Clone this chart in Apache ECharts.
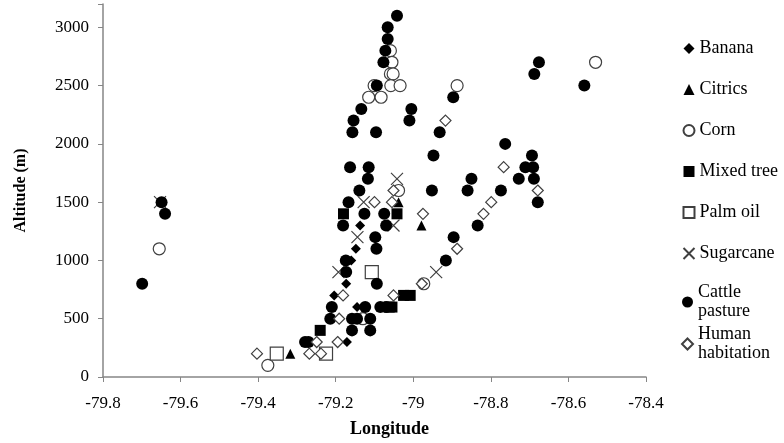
<!DOCTYPE html>
<html>
<head>
<meta charset="utf-8">
<script src="https://cdn.jsdelivr.net/npm/echarts@6/dist/echarts.min.js"></script>
<style>
  html, body { margin: 0; padding: 0; background: #fff; }
  #main { width: 784px; height: 443px; }
</style>
</head>
<body>
<div id="main"></div>
<script>
// [longitude, altitude]
var banana = [[-79.137, 1300], [-79.148, 1100], [-79.160, 1000], [-79.173, 800], [-79.204, 700], [-79.145, 600], [-79.171, 300]];
var citrics = [[-79.038, 1500], [-78.979, 1300], [-79.317, 200]];
var corn = [[-79.059, 2800], [-79.055, 2700], [-79.059, 2600], [-79.052, 2600], [-79.058, 2500], [-79.034, 2500], [-79.101, 2500],
    [-79.115, 2400], [-79.083, 2400], [-78.530, 2700], [-78.887, 2500], [-79.038, 1600], [-79.655, 1100], [-79.375, 100],
    [-78.973, 800], [-79.130, 500]];
var mixedTree = [[-79.042, 1400], [-79.180, 1400], [-79.240, 400], [-79.055, 600], [-79.062, 600], [-79.025, 700], [-79.008, 700]];
var palmOil = [[-79.352, 200], [-79.225, 200], [-79.107, 900]];
var sugarcane = [[-79.653, 1500], [-79.042, 1700], [-79.128, 1500], [-79.051, 1300], [-79.144, 1200], [-79.193, 900], [-78.941, 900]];
var cattle = [[-79.042, 3100], [-79.066, 3000], [-79.066, 2900], [-79.072, 2800], [-79.077, 2700], [-79.094, 2500],
    [-79.134, 2300], [-79.154, 2200], [-79.157, 2100], [-79.096, 2100], [-79.005, 2300], [-79.010, 2200], [-78.932, 2100],
    [-78.897, 2400], [-78.676, 2700], [-78.688, 2600], [-78.559, 2500], [-78.763, 2000], [-78.948, 1900], [-78.694, 1900],
    [-78.711, 1800], [-78.691, 1800], [-78.728, 1700], [-78.689, 1700], [-78.850, 1700], [-78.952, 1600], [-78.860, 1600],
    [-78.774, 1600], [-78.679, 1500], [-79.075, 1400], [-79.070, 1300], [-78.834, 1300], [-78.896, 1200], [-78.916, 1000],
    [-79.094, 800], [-79.095, 1100], [-79.085, 600], [-79.070, 600], [-79.163, 1800], [-79.115, 1800], [-79.117, 1700],
    [-79.139, 1600], [-79.167, 1500], [-79.126, 1400], [-79.181, 1300], [-79.098, 1200], [-79.174, 1000], [-79.173, 900],
    [-79.649, 1500], [-79.640, 1400], [-79.699, 800], [-79.210, 600], [-79.214, 500], [-79.279, 300], [-79.270, 300],
    [-79.158, 400], [-79.111, 400], [-79.158, 500], [-79.145, 500], [-79.111, 500], [-79.124, 600]];
var human = [[-78.917, 2200], [-78.767, 1800], [-78.679, 1600], [-79.051, 1600], [-79.055, 1500], [-79.100, 1500],
    [-78.975, 1400], [-78.799, 1500], [-78.819, 1400], [-78.887, 1100], [-78.978, 800], [-79.051, 700], [-79.181, 700],
    [-79.191, 500], [-79.249, 300], [-79.195, 300], [-79.403, 200], [-79.268, 200], [-79.238, 200]];

var chart = echarts.init(document.getElementById('main'));

var axisGrey = '#868686';
var openStyle = { color: '#fff', borderColor: '#404040', borderWidth: 1.2, opacity: 1 };
var solidStyle = { color: '#000', opacity: 1 };
var legendText = { fontFamily: 'Liberation Serif', fontSize: 18, color: '#000', lineHeight: 19 };

var option = {
    animation: false,
    backgroundColor: '#fff',
    grid: { left: 103, right: 138, top: 4, bottom: 66 },
    legend: [{
        data: ['Banana', 'Citrics', 'Corn', 'Mixed tree', 'Palm oil', 'Sugarcane'],
        orient: 'vertical',
        left: 676,
        top: 34,
        itemGap: 22,
        itemWidth: 11,
        itemHeight: 11,
        textStyle: legendText
    }, {
        data: ['Cattle pasture', 'Human habitation'],
        orient: 'vertical',
        left: 676,
        top: 278,
        itemGap: 4,
        itemWidth: 11,
        itemHeight: 11,
        formatter: function (name) { return name.replace(' ', '\n'); },
        textStyle: legendText
    }],
    xAxis: {
        type: 'value',
        min: -79.8,
        max: -78.4,
        interval: 0.2,
        name: 'Longitude',
        nameLocation: 'middle',
        nameGap: 43,
        nameTextStyle: { fontFamily: 'Liberation Serif', fontWeight: 'bold', fontSize: 18, color: '#000', padding: [0, 0, 0, 30] },
        splitLine: { show: false },
        axisLine: { lineStyle: { color: axisGrey, width: 1.5 } },
        axisTick: { show: true, inside: false, length: 5, lineStyle: { color: axisGrey } },
        axisLabel: {
            fontFamily: 'Liberation Serif', fontSize: 17, color: '#000', margin: 18,
            formatter: function (v) { return String(Number(v.toFixed(1))); }
        }
    },
    yAxis: {
        type: 'value',
        min: 0,
        max: 3200,
        interval: 500,
        name: 'Altitude (m)',
        nameLocation: 'middle',
        nameGap: 74,
        nameTextStyle: { fontFamily: 'Liberation Serif', fontWeight: 'bold', fontSize: 16, color: '#000' },
        splitLine: { show: false },
        axisLine: { show: true, lineStyle: { color: axisGrey, width: 1.5 } },
        axisTick: { show: true, inside: false, length: 5, lineStyle: { color: axisGrey } },
        axisLabel: {
            fontFamily: 'Liberation Serif', fontSize: 17, color: '#000', margin: 14,
            formatter: function (v) { return v % 500 === 0 ? String(v) : ''; }
        }
    },
    series: [
        { name: 'Banana', type: 'scatter', symbol: 'diamond', symbolSize: 10, itemStyle: solidStyle, data: banana },
        { name: 'Citrics', type: 'scatter', symbol: 'triangle', symbolSize: 10, itemStyle: solidStyle, data: citrics },
        { name: 'Corn', type: 'scatter', symbol: 'circle', symbolSize: 12, itemStyle: openStyle, data: corn },
        { name: 'Mixed tree', type: 'scatter', symbol: 'rect', symbolSize: 11, itemStyle: solidStyle, data: mixedTree },
        { name: 'Palm oil', type: 'scatter', symbol: 'rect', symbolSize: 13, itemStyle: openStyle, data: palmOil },
        {
            name: 'Sugarcane', type: 'scatter', symbol: 'path://M0,0L10,10M10,0L0,10', symbolSize: 12,
            itemStyle: { color: 'none', borderColor: '#404040', borderWidth: 1.2, opacity: 1 }, data: sugarcane
        },
        { name: 'Cattle pasture', type: 'scatter', symbol: 'circle', symbolSize: 12, itemStyle: solidStyle, data: cattle },
        { name: 'Human habitation', type: 'scatter', symbol: 'diamond', symbolSize: 11, itemStyle: openStyle, data: human }
    ]
};

chart.setOption(option);
</script>
</body>
</html>
